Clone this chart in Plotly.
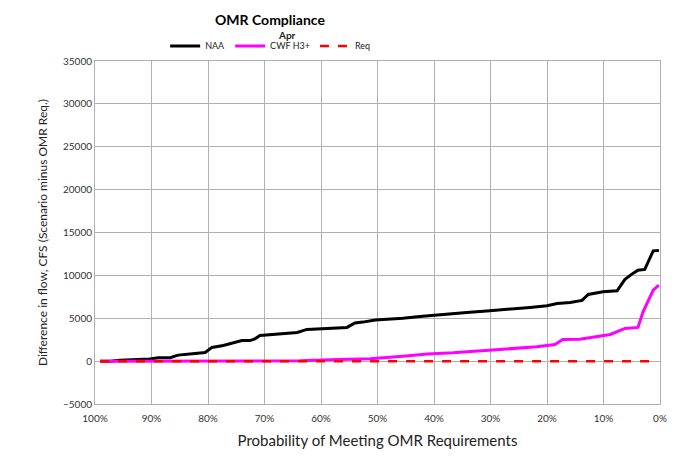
import plotly.graph_objects as go

# Probability of meeting OMR requirements (fraction) and difference in flow (cfs)
naa_prob = [0.991, 0.973, 0.956, 0.943, 0.920, 0.903, 0.888, 0.867, 0.853, 0.837,
            0.823, 0.805, 0.793, 0.773, 0.752, 0.740, 0.726, 0.717, 0.708, 0.690,
            0.664, 0.642, 0.625, 0.602, 0.575, 0.554, 0.540, 0.526, 0.504, 0.478,
            0.455, 0.425, 0.402, 0.372, 0.342, 0.301, 0.274, 0.257, 0.230, 0.200,
            0.182, 0.159, 0.138, 0.127, 0.101, 0.076, 0.062, 0.048, 0.039, 0.027,
            0.012, 0.002]
naa_diff = [0, 0, 100, 150, 200, 250, 400, 400, 700, 850,
            900, 1000, 1600, 1830, 2200, 2400, 2400, 2600, 3000, 3100,
            3200, 3350, 3700, 3800, 3850, 3930, 4450, 4550, 4800, 4900,
            5000, 5200, 5350, 5500, 5680, 5870, 6000, 6100, 6260, 6450,
            6730, 6850, 7080, 7780, 8080, 8200, 9530, 10230, 10610, 10690,
            12860, 12900]

cwf_prob = [0.991, 0.800, 0.700, 0.637, 0.584, 0.513, 0.455, 0.412, 0.366, 0.319,
            0.265, 0.218, 0.186, 0.172, 0.142, 0.112, 0.088, 0.062, 0.039, 0.030,
            0.021, 0.012, 0.002]
cwf_diff = [0, 0, 0, 30, 150, 270, 580, 820, 970, 1200,
            1430, 1670, 1940, 2530, 2560, 2830, 3110, 3810, 3930, 5750,
            7110, 8280, 8860]

req_prob = [0.991, 0.012]
req_diff = [0, 0]

x_ticks = [1.0, 0.9, 0.8, 0.7, 0.6, 0.5, 0.4, 0.3, 0.2, 0.1, 0.0]

font_family = "Lato, 'Open Sans', sans-serif"
grid_col = "#b0b0b0"

fig = go.Figure()
fig.add_trace(go.Scatter(x=naa_prob, y=naa_diff, mode="lines", name="NAA",
                         line=dict(color="black", width=3)))
fig.add_trace(go.Scatter(x=cwf_prob, y=cwf_diff, mode="lines", name="CWF H3+",
                         line=dict(color="#ff00ff", width=3)))
fig.add_trace(go.Scatter(x=req_prob, y=req_diff, mode="lines", name="Req",
                         line=dict(color="#ff0000", width=2.5, dash="dash")))

# the page puts the figure 8px in from the top-left corner
fig.update_layout(
    width=678, height=465,
    paper_bgcolor="white", plot_bgcolor="white",
    font=dict(family=font_family, color="#333333", size=10),
    margin=dict(l=87, r=26, t=53, b=69, autoexpand=False),
    title=dict(text="<b>OMR Compliance</b>", x=262 / 678, xanchor="center",
               y=1 - 12 / 465, yanchor="middle",
               font=dict(size=14, color="black", family=font_family)),
    legend=dict(orientation="h", x=0.31, xanchor="center", y=1.044, yanchor="middle",
                font=dict(size=9, color="#222222"), itemwidth=30,
                bgcolor="rgba(0,0,0,0)", tracegroupgap=0),
    showlegend=True,
)

fig.add_annotation(text="<b>Apr</b>", x=0.32, y=1.076, xref="paper", yref="paper",
                   yanchor="middle", showarrow=False, font=dict(size=10, color="#222222"))

fig.update_xaxes(
    range=[1.0, 0.0], tickvals=x_ticks, tickformat=".0%",
    showgrid=True, gridcolor=grid_col, gridwidth=1,
    showline=True, linecolor=grid_col, linewidth=1, mirror=True,
    ticks="", zeroline=False, automargin=False, ticklabelstandoff=5,
    title=dict(text="Probability of Meeting OMR Requirements", font=dict(size=15, color="#222222"),
               standoff=12),
    tickfont=dict(size=10, color="#333333"),
)
fig.update_yaxes(
    range=[-5000, 35000], dtick=5000, tickformat="d",
    showgrid=True, gridcolor=grid_col, gridwidth=1,
    showline=True, linecolor=grid_col, linewidth=1, mirror=True,
    ticks="", zeroline=False, automargin=False,
    title=dict(text="Difference in flow, CFS (Scenario minus OMR Req.)",
               font=dict(size=12, color="#222222"), standoff=12),
    tickfont=dict(size=10, color="#333333"),
)

fig.write_html("out.html")
